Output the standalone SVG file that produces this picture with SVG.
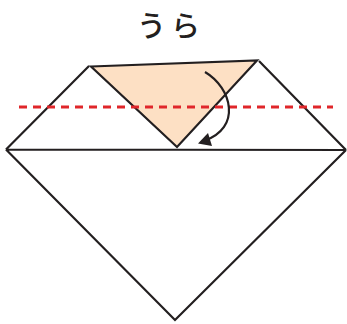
<svg xmlns="http://www.w3.org/2000/svg" width="347" height="324" viewBox="0 0 347 324">
<defs>
<style>
.ln{fill:none;stroke:#231f20;stroke-width:2.2;stroke-linejoin:miter}
.lbl{font-family:"Noto Sans CJK JP",sans-serif;font-size:29px;font-weight:500;fill:#231f20}
</style>
</defs>
<rect width="347" height="324" fill="#fff"/>
<g id="title"><text class="lbl" x="171" y="37" text-anchor="middle" letter-spacing="5">うら</text></g>
<g id="paper">
<path class="ln" d="M6,149.5 L89,66 M259,61 L346,150 M6,149.5 L175,320 L346,150 M6,149.5 L346,150"/>
</g>
<g id="flap">
<path d="M91,66.5 L257,60.5 L177,147 Z" fill="#fde0c4" stroke="#231f20" stroke-width="2.2" stroke-linejoin="miter"/>
</g>
<g id="connectors">
<line x1="19" y1="107" x2="333" y2="107" stroke="#e0262a" stroke-width="2.8" stroke-dasharray="8,6"/>
<path d="M205,72 C232,88 242,128 204,141" fill="none" stroke="#231f20" stroke-width="2.2"/>
<path d="M198,143.5 L208,133 L212,146 Z" fill="#231f20"/>
</g>
</svg>
